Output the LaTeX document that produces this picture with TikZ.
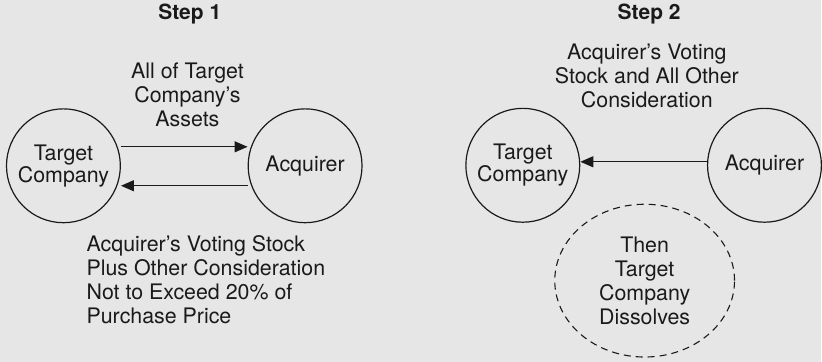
\documentclass[tikz,border=0pt]{standalone}
\usepackage{fontspec}
\setmainfont{TeX Gyre Heros}
\usetikzlibrary{shapes,arrows.meta,positioning}

\definecolor{paper}{HTML}{E6E6E6}
\definecolor{ink}{HTML}{1A1A1A}

\begin{document}
\begin{tikzpicture}[%
    x=1pt, y=-1pt,                        % Work in pixels, top-down
    >={Triangle[length=13pt,width=11pt]}, % Filled arrow heads
    node distance=242pt,                  % Centre-to-centre spacing of the circles
    every join/.style={flow},             % Default linetype for connecting boxes
    ]
% -------------------------------------------------
% A few box styles
\tikzset{
  base/.style={align=center, inner sep=0pt, text=ink,
    font=\fontsize{21.4}{24}\selectfont},
  firm/.style={base, draw=ink, circle, on grid, minimum size=114pt,
    line width=1.2pt, font=\fontsize{21.4}{22.5}\selectfont},
  gone/.style={base, draw=ink, ellipse, line width=1.1pt,
    dash pattern=on 7pt off 5pt, minimum width=180pt, minimum height=153pt},
  title/.style={base, font=\fontsize{21}{24}\selectfont\bfseries},
  % Connector line style
  flow/.style={->, draw=ink, line width=1.1pt},
}
\fill[paper] (0,0) rectangle (822,362);
% -------------------------------------------------
% Step 1: asset transfer
\node [title, anchor=base] (s1) at (190,20) {Step 1};
\node [firm] (tc1) at (63.5,166) {Target\\Company};
\node [firm, right = of tc1] (aq1) {Acquirer};
\node [base] (give1) at (187.7,95) {All of Target\\Company’s\\Assets};
\node [base, align=left, anchor=west] (pay1) at (86.5,280)
  {Acquirer’s Voting Stock\\Plus Other Consideration\\Not to Exceed 20\% of\\Purchase Price};

\draw[flow] ([yshift=19pt]tc1.east) -- ([yshift=19pt]aq1.west);   % assets
\draw[flow] ([yshift=-20pt]aq1.west) -- ([yshift=-20pt]tc1.east); % stock

% -------------------------------------------------
% Step 2: liquidation
\node [title, anchor=base] (s2) at (650,20) {Step 2};
\node [firm] (tc2) at (523.5,165.5) {Target\\Company};
\node [firm, right = of tc2] (aq2) {Acquirer};
\node [base] (pay2) at (647.7,76) {Acquirer’s Voting\\Stock and All Other\\Consideration};
\node [gone] (end) at (645.5,281) {Then\\Target\\Company\\Dissolves};

\draw[flow] ([yshift=3.5pt]aq2.west) -- ([yshift=3.5pt]tc2.east);
% -------------------------------------------------
\end{tikzpicture}
\end{document}
